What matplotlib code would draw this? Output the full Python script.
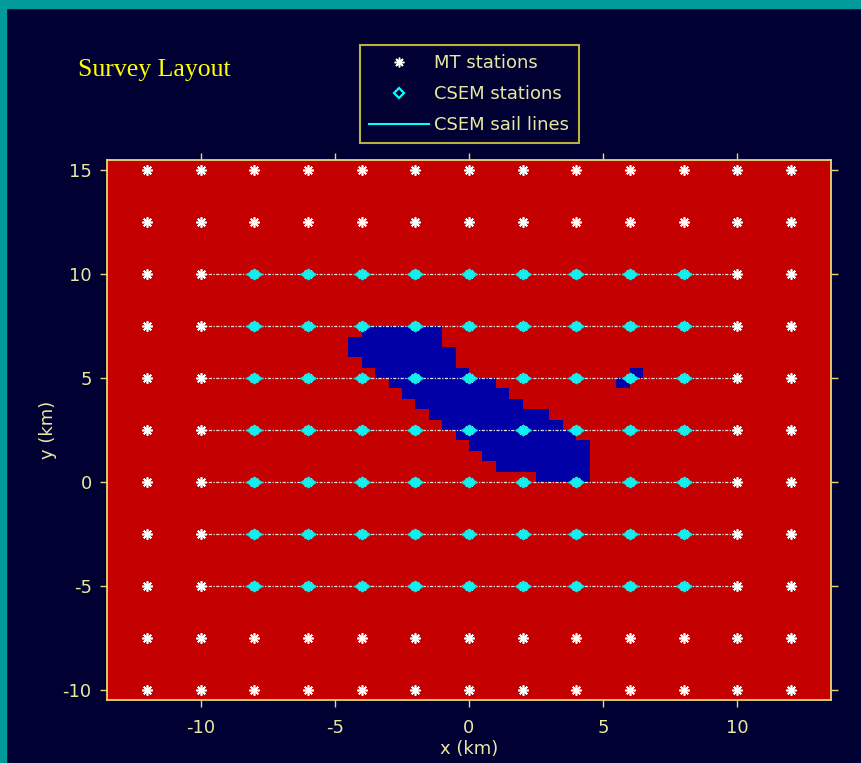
import numpy as np
import matplotlib
matplotlib.use("Agg")
import matplotlib.pyplot as plt
from matplotlib.colors import ListedColormap
from matplotlib.lines import Line2D
from matplotlib.patches import Rectangle

plt.rcParams["axes.unicode_minus"] = False

# station layout (km)
mt_x = [-12, -10, -8, -6, -4, -2, 0, 2, 4, 6, 8, 10, 12]
mt_y = [-10, -7.5, -5, -2.5, 0, 2.5, 5, 7.5, 10, 12.5, 15]
csem_x = [-8, -6, -4, -2, 0, 2, 4, 6, 8]
csem_y = [-5, -2.5, 0, 2.5, 5, 7.5, 10]
sail_x = [-10, 10]

# resistivity model: 0.5 km cells, '#' = conductive anomaly
# window covers x -5..7 km, y 7.5 (top row) down to 0
cell = 0.5
anomaly_x0, anomaly_y0 = -5.0, 0.0
anomaly_rows = [
    "..######................",
    ".#######................",
    ".########...............",
    "..#######...............",
    "...#######............#.",
    "....########.........#..",
    ".....########...........",
    "......########..........",
    ".......#########........",
    "........#########.......",
    ".........#########......",
    "..........#########.....",
    "...........########.....",
    "............#######.....",
    "...............####.....",
]

NAVY = "#000033"
TEAL = "#009a9a"
RED = "#c40000"
BLUE = "#0000a6"
AXCOL = "#e6d878"
TXT = "#e8e8a0"
FS = 13

x_edges = np.arange(-13.5, 13.5 + cell / 2, cell)
y_edges = np.arange(-10.5, 15.5 + cell / 2, cell)
model = np.zeros((len(y_edges) - 1, len(x_edges) - 1))
c0 = int(round((anomaly_x0 - x_edges[0]) / cell))
r0 = int(round((anomaly_y0 - y_edges[0]) / cell))
for k, row in enumerate(anomaly_rows[::-1]):
    for j, ch in enumerate(row):
        if ch == "#":
            model[r0 + k, c0 + j] = 1

fig = plt.figure(figsize=(8.62, 7.63), dpi=100, facecolor=NAVY)
fig.add_artist(Rectangle((0, 1 - 8 / 763), 1, 8 / 763, transform=fig.transFigure,
                         color=TEAL, zorder=0))
fig.add_artist(Rectangle((0, 0), 6 / 862, 1, transform=fig.transFigure,
                         color=TEAL, zorder=0))

ax = fig.add_axes([107 / 862, 1 - 700 / 763, 724 / 862, 540 / 763])
ax.set_facecolor(RED)
ax.pcolormesh(x_edges, y_edges, model, cmap=ListedColormap([RED, BLUE]),
              vmin=0, vmax=1, shading="flat")

# sail lines along each CSEM row
for y in csem_y:
    ax.plot(sail_x, [y, y], color="#e4e4e4", lw=0.9, dashes=(2.5, 1.2, 1, 1.2), zorder=2)

mx, my = np.meshgrid(mt_x, mt_y)
ax.plot(mx.ravel(), my.ravel(), ls="none", marker=(8, 2, 0), ms=7.5, mew=1.2,
        color="white", zorder=3)

diamond = [(-1, 0), (0, 0.7), (1, 0), (0, -0.7), (-1, 0)]
cx, cy = np.meshgrid(csem_x, csem_y)
ax.plot(cx.ravel(), cy.ravel(), ls="none", marker=diamond, ms=11.5, mew=0.6,
        color="#10f0f0", mec="#00d8d8", zorder=4)

ax.set_xlim(-13.5, 13.5)
ax.set_ylim(-10.5, 15.5)
ax.set_xticks([-10, -5, 0, 5, 10])
ax.set_yticks([-10, -5, 0, 5, 10, 15])
ax.tick_params(direction="out", length=5, width=1, colors=AXCOL, labelcolor=TXT,
               labelsize=FS, top=True, right=True)
ax.tick_params(axis="x", pad=9)
ax.tick_params(axis="y", pad=6)
for s in ax.spines.values():
    s.set_color(AXCOL)
    s.set_linewidth(1.3)
ax.set_xlabel("x (km)", color=TXT, fontsize=FS, labelpad=2)
ax.set_ylabel("y (km)", color=TXT, fontsize=FS, labelpad=4)

fig.text(78 / 862, 1 - 70 / 763, "Survey Layout", color="#ffff00", fontsize=18.5,
         family="Liberation Serif", va="center", ha="left")

handles = [
    Line2D([], [], ls="none", marker=(8, 2, 0), ms=7, mew=1.1, color="white"),
    Line2D([], [], ls="none", marker="D", ms=5, mew=1.6, mfc=NAVY, mec="#00ffff"),
    Line2D([], [], color="#00ffff", lw=1.5),
]
leg = fig.legend(handles, ["MT stations", "CSEM stations", "CSEM sail lines"],
                 loc="upper center", bbox_to_anchor=(469.5 / 862, 1 - 45 / 763),
                 bbox_transform=fig.transFigure, frameon=True, fancybox=False,
                 facecolor=NAVY, edgecolor="#e8e040", fontsize=FS,
                 handlelength=3.3, handletextpad=0.3, borderpad=0.5,
                 labelspacing=0.72, borderaxespad=0)
leg.get_frame().set_linewidth(1.5)
for t in leg.get_texts():
    t.set_color(TXT)

fig.savefig("out.png", dpi=100, facecolor=NAVY)
